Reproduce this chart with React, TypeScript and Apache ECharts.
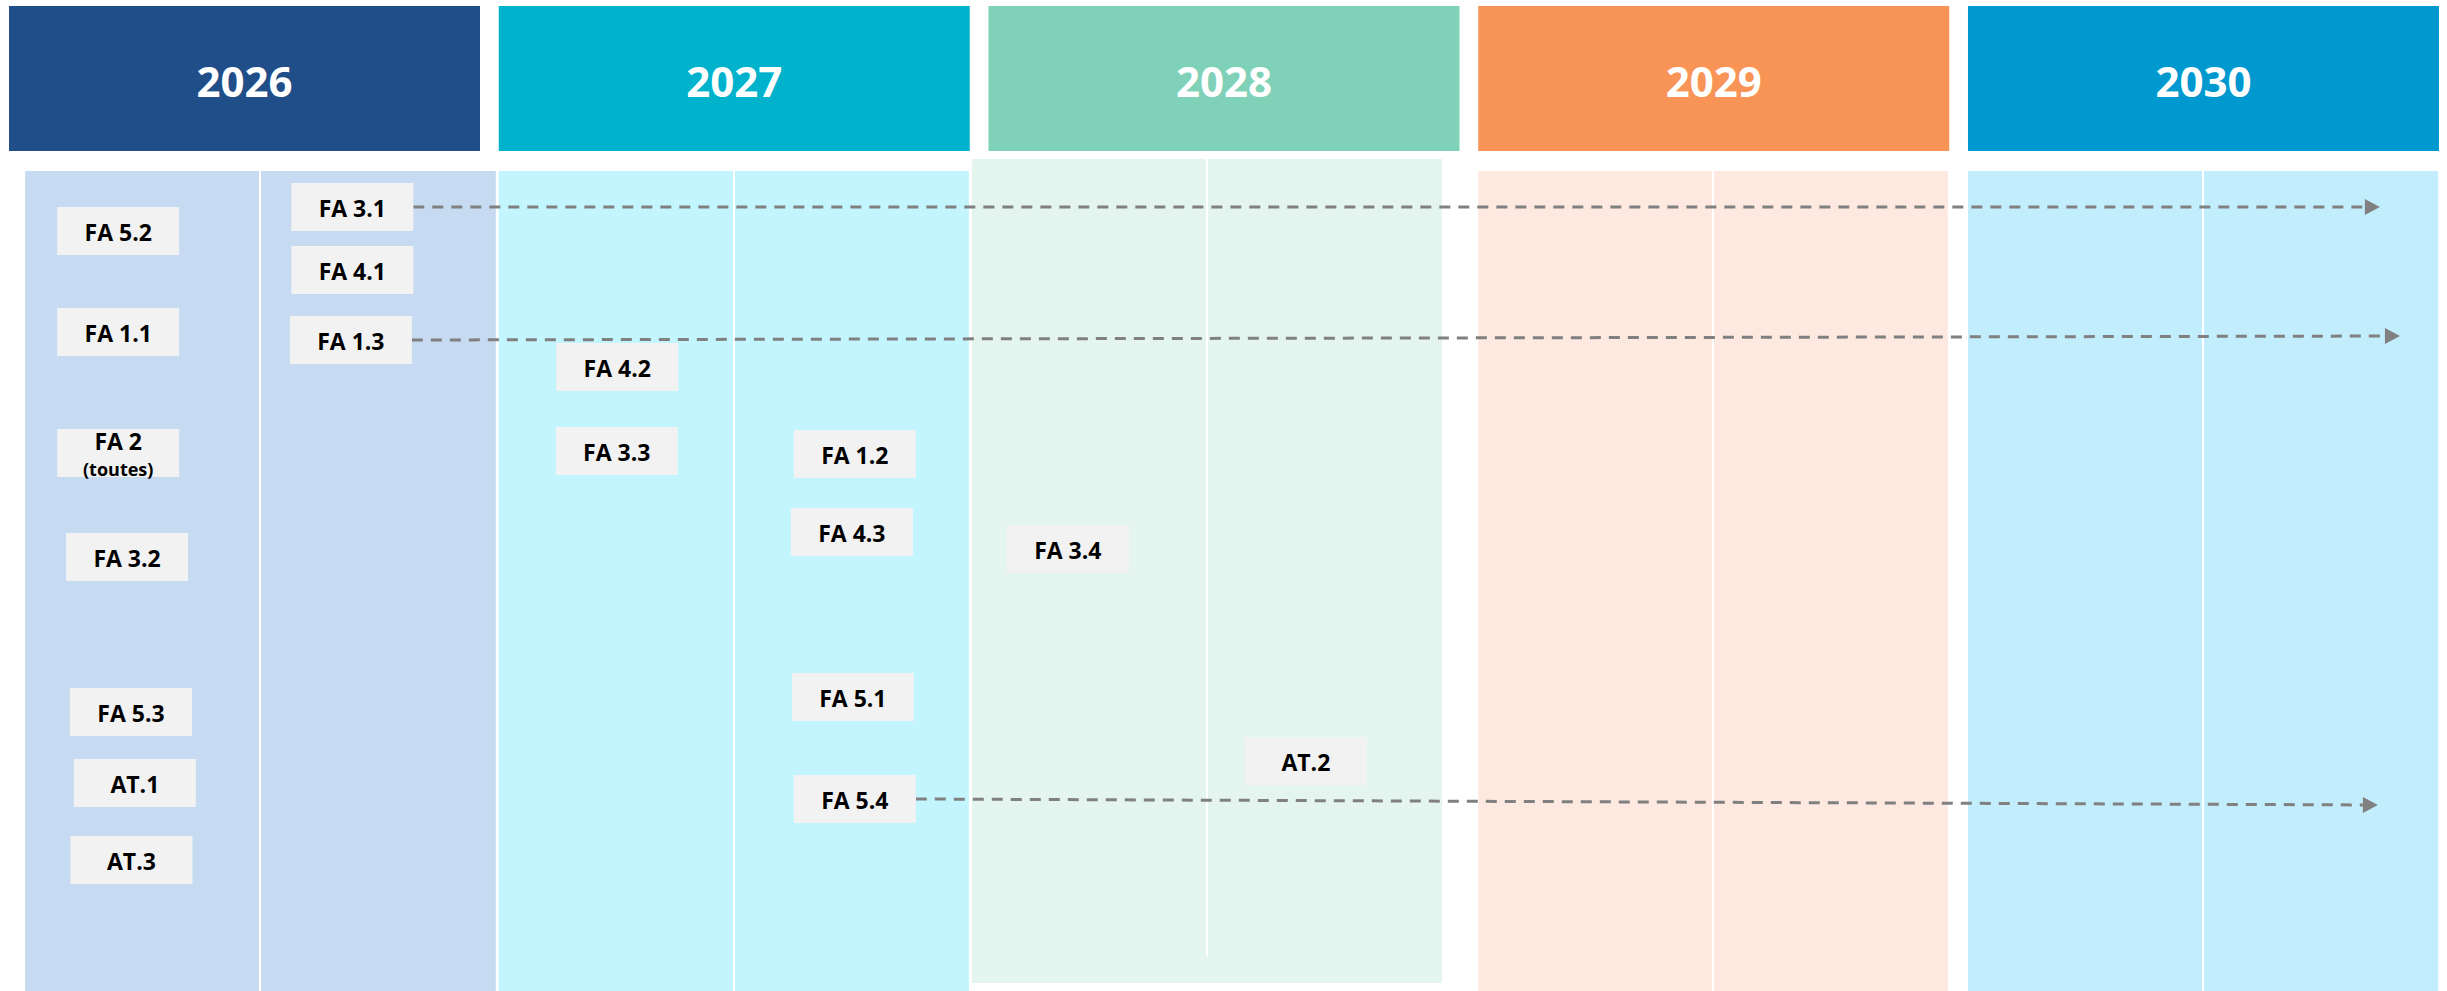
import React, { useEffect, useRef } from "react";
import * as echarts from "echarts";

// ---- Data ----
const years = ["2026", "2027", "2028", "2029", "2030"];
const yearStart = [2026, 2027, 2028, 2029, 2030];

// body panels (time span) per year
const panelStart = [2026.033, 2027.0, 2027.966, 2029.0, 2030.0];
const panelEnd = [2026.994, 2027.96, 2028.926, 2029.959, 2030.96];
const panelTop = [171, 171, 159, 171, 171];
const panelBottom = [991, 991, 983, 991, 991];
const dividerBottom = [991, 991, 956, 991, 991];

// actions (label, time, row)
const actionLabels = [
  "FA 5.2", "FA 1.1", "FA 2", "FA 3.2", "FA 5.3", "AT.1", "AT.3",
  "FA 3.1", "FA 4.1", "FA 1.3",
  "FA 4.2", "FA 3.3", "FA 1.2", "FA 4.3", "FA 5.1", "FA 5.4",
  "FA 3.4", "AT.2",
];
const actionSubLabels: Record<string, string> = { "FA 2": "(toutes)" };
const actionTime = [
  2026.223, 2026.223, 2026.223, 2026.241, 2026.249, 2026.257, 2026.25,
  2026.701, 2026.701, 2026.698,
  2027.242, 2027.241, 2027.727, 2027.721, 2027.723, 2027.727,
  2028.162, 2028.648,
];
const actionRow = [
  231, 332, 453, 557, 712, 783, 860,
  207, 270, 340,
  367, 451, 454, 532, 697, 799,
  549, 761,
];

// continuing actions (dashed arrows)
const arrowFrom = ["FA 3.1", "FA 1.3", "FA 5.4"];
const arrowToTime = [2030.841, 2030.882, 2030.837];
const arrowToRow = [207, 336, 805];

// ---- Styles ----
const headerColors = ["#1F4E89", "#00B2CC", "#7FD1B7", "#F79456", "#0099CF"];
const panelColors = ["#C6DAF2", "#C2F5FD", "#E4F5EF", "#FDE9DF", "#C2EDFD"];
const FONT = '"Open Sans", "Noto Sans", sans-serif';
const HEADER_SPAN = 0.9617;
const BOX_W = 122;
const BOX_H = 48;

export default function App() {
  const ref = useRef<HTMLDivElement>(null);

  useEffect(() => {
    document.body.style.margin = "0";
    const chart = echarts.init(ref.current!, null, { renderer: "svg" });

    const panelData = panelStart.map((s, i) => [s, panelTop[i], panelEnd[i], panelBottom[i], dividerBottom[i]]);
    const headerData = yearStart.map((y) => [y, 6, y + HEADER_SPAN, 151]);
    const boxData = actionLabels.map((_, i) => [actionTime[i], actionRow[i]]);
    const arrowData = arrowFrom.map((name, i) => {
      const k = actionLabels.indexOf(name);
      return [actionTime[k], actionRow[k], arrowToTime[i], arrowToRow[i]];
    });

    const option: any = {
      animation: false,
      backgroundColor: "#ffffff",
      grid: { left: 0, right: 0, top: 0, bottom: 0 },
      xAxis: { type: "value", min: 2025.9816, max: 2030.9781, show: false },
      yAxis: { type: "value", min: 0, max: 991, inverse: true, show: false },
      series: [
        {
          type: "custom",
          name: "panels",
          clip: false,
          encode: { x: [0, 2], y: [1, 3] },
          data: panelData,
          renderItem: (params: any, api: any) => {
            const i = params.dataIndex;
            const p0 = api.coord([api.value(0), api.value(1)]);
            const p1 = api.coord([api.value(2), api.value(3)]);
            const pd = api.coord([api.value(0), api.value(4)]);
            const mx = Math.round((p0[0] + p1[0]) / 2);
            return {
              type: "group",
              children: [
                {
                  type: "rect",
                  shape: { x: p0[0], y: p0[1], width: p1[0] - p0[0], height: p1[1] - p0[1] },
                  style: { fill: panelColors[i] },
                },
                {
                  type: "line",
                  shape: { x1: mx, y1: p0[1], x2: mx, y2: pd[1] },
                  style: { stroke: "#ffffff", lineWidth: 2 },
                },
              ],
            };
          },
        },
        {
          type: "custom",
          name: "years",
          clip: false,
          encode: { x: [0, 2], y: [1, 3] },
          data: headerData,
          renderItem: (params: any, api: any) => {
            const i = params.dataIndex;
            const p0 = api.coord([api.value(0), api.value(1)]);
            const p1 = api.coord([api.value(2), api.value(3)]);
            return {
              type: "group",
              children: [
                {
                  type: "rect",
                  shape: { x: p0[0], y: p0[1], width: p1[0] - p0[0], height: p1[1] - p0[1] },
                  style: { fill: headerColors[i] },
                },
                {
                  type: "text",
                  style: {
                    text: years[i],
                    x: (p0[0] + p1[0]) / 2,
                    y: (p0[1] + p1[1]) / 2 + 2,
                    align: "center",
                    verticalAlign: "middle",
                    font: `bold 42px ${FONT}`,
                    fill: "#ffffff",
                  },
                },
              ],
            };
          },
        },
        {
          type: "custom",
          name: "arrows",
          clip: false,
          encode: { x: [0, 2], y: [1, 3] },
          data: arrowData,
          renderItem: (params: any, api: any) => {
            const c = api.coord([api.value(0), api.value(1)]);
            const e = api.coord([api.value(2), api.value(3)]);
            const sx = c[0] + BOX_W / 2;
            const sy = c[1];
            const dx = e[0] - sx;
            const dy = e[1] - sy;
            const len = Math.sqrt(dx * dx + dy * dy);
            const ux = dx / len;
            const uy = dy / len;
            const hl = 15;
            const hw = 8;
            const bx = e[0] - ux * hl;
            const by = e[1] - uy * hl;
            return {
              type: "group",
              children: [
                {
                  type: "line",
                  shape: { x1: sx, y1: sy, x2: bx, y2: by },
                  style: { stroke: "#808080", lineWidth: 3, lineDash: [11, 8] },
                },
                {
                  type: "polygon",
                  shape: {
                    points: [
                      [e[0], e[1]],
                      [bx - uy * hw, by + ux * hw],
                      [bx + uy * hw, by - ux * hw],
                    ],
                  },
                  style: { fill: "#808080" },
                },
              ],
            };
          },
        },
        {
          type: "custom",
          name: "actions",
          clip: false,
          encode: { x: 0, y: 1 },
          data: boxData,
          renderItem: (params: any, api: any) => {
            const i = params.dataIndex;
            const label = actionLabels[i];
            const sub = actionSubLabels[label];
            const c = api.coord([api.value(0), api.value(1)]);
            const children: any[] = [
              {
                type: "rect",
                shape: { x: c[0] - BOX_W / 2, y: c[1] - BOX_H / 2, width: BOX_W, height: BOX_H },
                style: { fill: "#F2F2F2" },
              },
              {
                type: "text",
                style: {
                  text: label,
                  x: c[0],
                  y: sub ? c[1] - 12 : c[1] + 1,
                  align: "center",
                  verticalAlign: "middle",
                  font: `bold 23px ${FONT}`,
                  fill: "#000000",
                },
              },
            ];
            if (sub) {
              children.push({
                type: "text",
                style: {
                  text: sub,
                  x: c[0],
                  y: c[1] + 16,
                  align: "center",
                  verticalAlign: "middle",
                  font: `bold 18px ${FONT}`,
                  fill: "#000000",
                },
              });
            }
            return { type: "group", children };
          },
        },
      ],
    };

    chart.setOption(option);
    return () => chart.dispose();
  }, []);

  return <div ref={ref} style={{ width: 2447, height: 991 }} />;
}
